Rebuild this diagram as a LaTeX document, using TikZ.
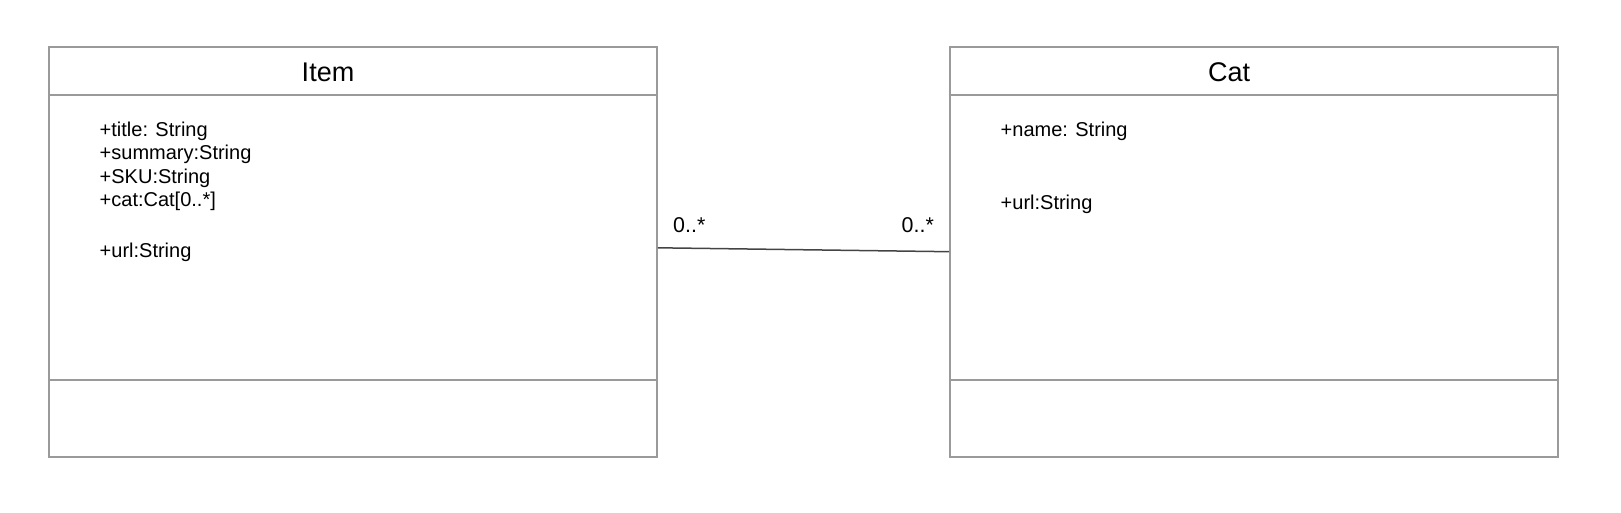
\documentclass[tikz,border=0pt]{standalone}
\usepackage{fontspec}
\setmainfont{Liberation Sans}
\begin{document}
\begin{tikzpicture}[x=1pt,y=-1pt,
  box/.style={draw=boxgray,line width=1.8pt},
  sep/.style={draw=boxgray,line width=1.8pt},
  title/.style={font=\fontsize{27}{30}\selectfont,anchor=base,inner sep=0pt},
  attr/.style={font=\fontsize{20}{23}\selectfont,anchor=base west,inner sep=0pt},
  mult/.style={font=\fontsize{21.4}{24}\selectfont,anchor=base west,inner sep=0pt},
  assoc/.style={draw=linegray,line width=1.5pt}]
\definecolor{boxgray}{HTML}{9A9A9A}
\definecolor{linegray}{HTML}{444444}
\useasboundingbox (0,0) rectangle (1621,513);
% Item class
\node[box,minimum width=608pt,minimum height=410pt,inner sep=0pt,anchor=north west] (item) at (48,46) {};
\draw[sep] (48,95) -- (656,95);
\draw[sep] (48,380) -- (656,380);
\node[title] (itemt) at (328,81.7) {Item};
\node[attr] (a1) at (99.5,136.5) {+title: String};
\node[attr] (a2) at (99.5,160) {+summary:String};
\node[attr] (a3) at (99.5,183.5) {+SKU:String};
\node[attr] (a4) at (99.5,207) {+cat:Cat[0..*]};
\node[attr] (a5) at (99.5,257) {+url:String};
% Cat class
\node[box,minimum width=608pt,minimum height=410pt,inner sep=0pt,anchor=north west] (cat) at (949,46) {};
\draw[sep] (949,95) -- (1557,95);
\draw[sep] (949,380) -- (1557,380);
\node[title] (catt) at (1229,81.7) {Cat};
\node[attr] (b1) at (1000.5,136.5) {+name: String};
\node[attr] (b2) at (1000.5,209.5) {+url:String};
% association
\coordinate (p1) at (657,247.8);
\coordinate (p2) at (949,251.7);
\draw[assoc] (item.east |- p1) -- (cat.west |- p2);
\node[mult] (m1) at (673,232) {0..*};
\node[mult] (m2) at (901.5,232) {0..*};
\end{tikzpicture}
\end{document}
